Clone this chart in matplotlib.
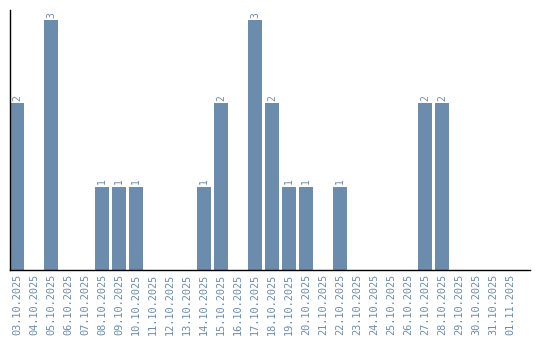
import matplotlib
matplotlib.use("Agg")
import matplotlib.pyplot as plt

dates = ["03.10.2025", "04.10.2025", "05.10.2025", "06.10.2025", "07.10.2025",
         "08.10.2025", "09.10.2025", "10.10.2025", "11.10.2025", "12.10.2025",
         "13.10.2025", "14.10.2025", "15.10.2025", "16.10.2025", "17.10.2025",
         "18.10.2025", "19.10.2025", "20.10.2025", "21.10.2025", "22.10.2025",
         "23.10.2025", "24.10.2025", "25.10.2025", "26.10.2025", "27.10.2025",
         "28.10.2025", "29.10.2025", "30.10.2025", "31.10.2025", "01.11.2025"]
counts = [2, 0, 3, 0, 0, 1, 1, 1, 0, 0, 0, 1, 2, 0, 3, 2, 1, 1, 0, 1,
          0, 0, 0, 0, 2, 2, 0, 0, 0, 0]

color = "#6b8cad"
fig = plt.figure(figsize=(5.4, 3.4), dpi=100)
ax = fig.add_axes([10/540, 70/340, 520/540, 260/340])
x = list(range(len(dates)))
bars = ax.bar(x, counts, width=0.82, color=color)
for xi, v in zip(x, counts):
    if v > 0:
        ax.text(xi, v + 0.03, str(v), rotation=90, ha="center", va="bottom",
                fontsize=7, color=color, family="DejaVu Sans Mono")
ax.set_xlim(-0.41, 30.18)
ax.set_ylim(0, 3.12)
ax.set_xticks(x)
ax.set_xticklabels(dates, rotation=90, fontsize=7.4, color=color,
                   family="DejaVu Sans Mono")
ax.tick_params(axis="x", length=0, pad=3)
ax.set_yticks([])
for s in ["top", "right"]:
    ax.spines[s].set_visible(False)
ax.spines["left"].set_linewidth(1)
ax.spines["bottom"].set_linewidth(1)
fig.savefig("out.png", dpi=100)
